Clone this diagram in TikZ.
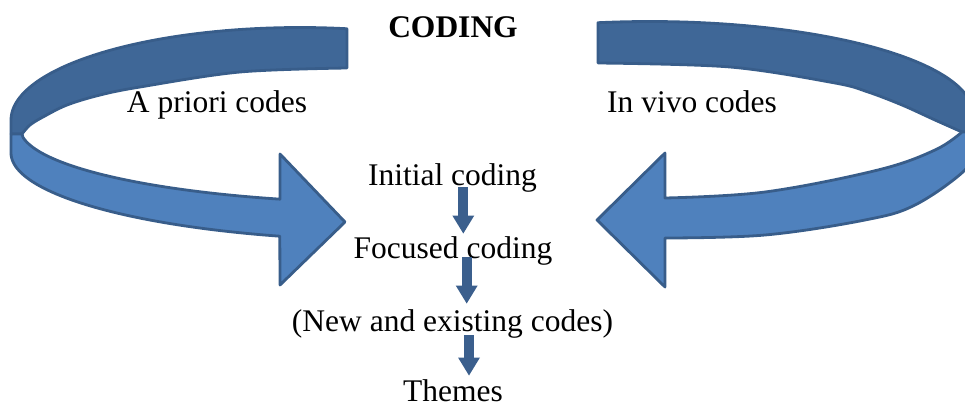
\documentclass[tikz,border=0pt]{standalone}
\usepackage{fontspec}
\setmainfont{Liberation Serif}
\usetikzlibrary{calc}
\definecolor{ribdark}{HTML}{3F6797}
\definecolor{riblight}{HTML}{4F81BD}
\definecolor{ribline}{HTML}{385D8A}
\definecolor{smallarr}{HTML}{3B5F8D}
\newcommand{\blockdownarrow}[2]{%
  \fill[smallarr] ($(#1)+(-5,0)$) rectangle ($(#2)+(5,-17)$);
  \fill[smallarr] ($(#2)+(-11,-18)$) -- ($(#2)+(11,-18)$) -- (#2) -- cycle;}
\begin{document}
\begin{tikzpicture}[x=1pt,y=-1pt,
  ribbon/.style={draw=ribline, line width=2.8pt, line join=round},
  lbl/.style={font=\fontsize{31.5}{36}\selectfont, anchor=base, inner sep=0pt},
  ttl/.style={font=\fontsize{31.5}{36}\selectfont\bfseries, anchor=base, inner sep=0pt}]
\useasboundingbox (0,0) rectangle (965,407);
\clip (0,0) rectangle (965,407);

% ---- left ribbon: dark upper part
\path[ribbon, fill=ribdark] (347,28.7)
  -- plot[domain=80.64:180, samples=50, variable=\t] ({300+289*cos(\t)}, {120-92.5*sin(\t)})
  -- (11,134) -- (22,134)
  -- plot[smooth, tension=0.55] coordinates {(22,134) (30,125) (43,117) (67,105) (100,95) (140,87) (240,72) (347,68)}
  -- cycle;
% ---- left ribbon: light lower part with arrow head
\path[ribbon, fill=riblight] (11,134) -- (11,153)
  -- plot[domain=180:108, samples=50, variable=\t] ({400+389*cos(\t)}, {153+87.5*sin(\t)})
  -- (280,285) -- (345,222) -- (280,154) -- (280,199.2)
  -- plot[domain=108.4:172.8, samples=50, variable=\t] ({400+380*cos(\t)}, {128+75*sin(\t)})
  -- (22,134) -- cycle;

% ---- right ribbon: dark upper part
\path[ribbon, fill=ribdark] (598,22.7)
  -- plot[domain=99.26:0, samples=50, variable=\t] ({650+323*cos(\t)}, {114-92.5*sin(\t)})
  -- (973,132) -- (962,132)
  -- plot[smooth, tension=0.55] coordinates {(962,132) (935,120) (902,105) (868,92) (835,83) (730,67) (598,63)}
  -- cycle;
% ---- right ribbon: light lower part with arrow head
\path[ribbon, fill=riblight] (973,132) -- (973,148)
  -- plot[smooth, tension=0.6] coordinates {(973,148) (965,170) (915,205) (865,220) (765,235) (665,238)}
  -- (665,287) -- (597,220) -- (665,153) -- (665,198)
  -- plot[smooth, tension=0.6] coordinates {(665,198) (765,192) (878,170) (935,150) (962,132)}
  -- cycle;

% ---- labels
\node[ttl] (coding) at (453,37) {CODING};
\node[lbl] (apriori) at (217,112) {A priori codes};
\node[lbl] (invivo) at (692,112) {In vivo codes};
\node[lbl] (initial) at (452.5,185) {Initial coding};
\node[lbl] (focused) at (453,258) {Focused coding};
\node[lbl] (newexist) at (452.5,331.5) {(New and existing codes)};
\node[lbl] (themes) at (453,401) {Themes};

% ---- small down arrows
\coordinate (a1s) at (463.3,187);
\coordinate (a1e) at (463.3,233.5);
\coordinate (a2s) at (466.7,257);
\coordinate (a2e) at (466.7,303.5);
\coordinate (a3s) at (469,335);
\coordinate (a3e) at (469,375.5);
\blockdownarrow{a1s}{a1e}
\blockdownarrow{a2s}{a2e}
\blockdownarrow{a3s}{a3e}
\end{tikzpicture}
\end{document}
